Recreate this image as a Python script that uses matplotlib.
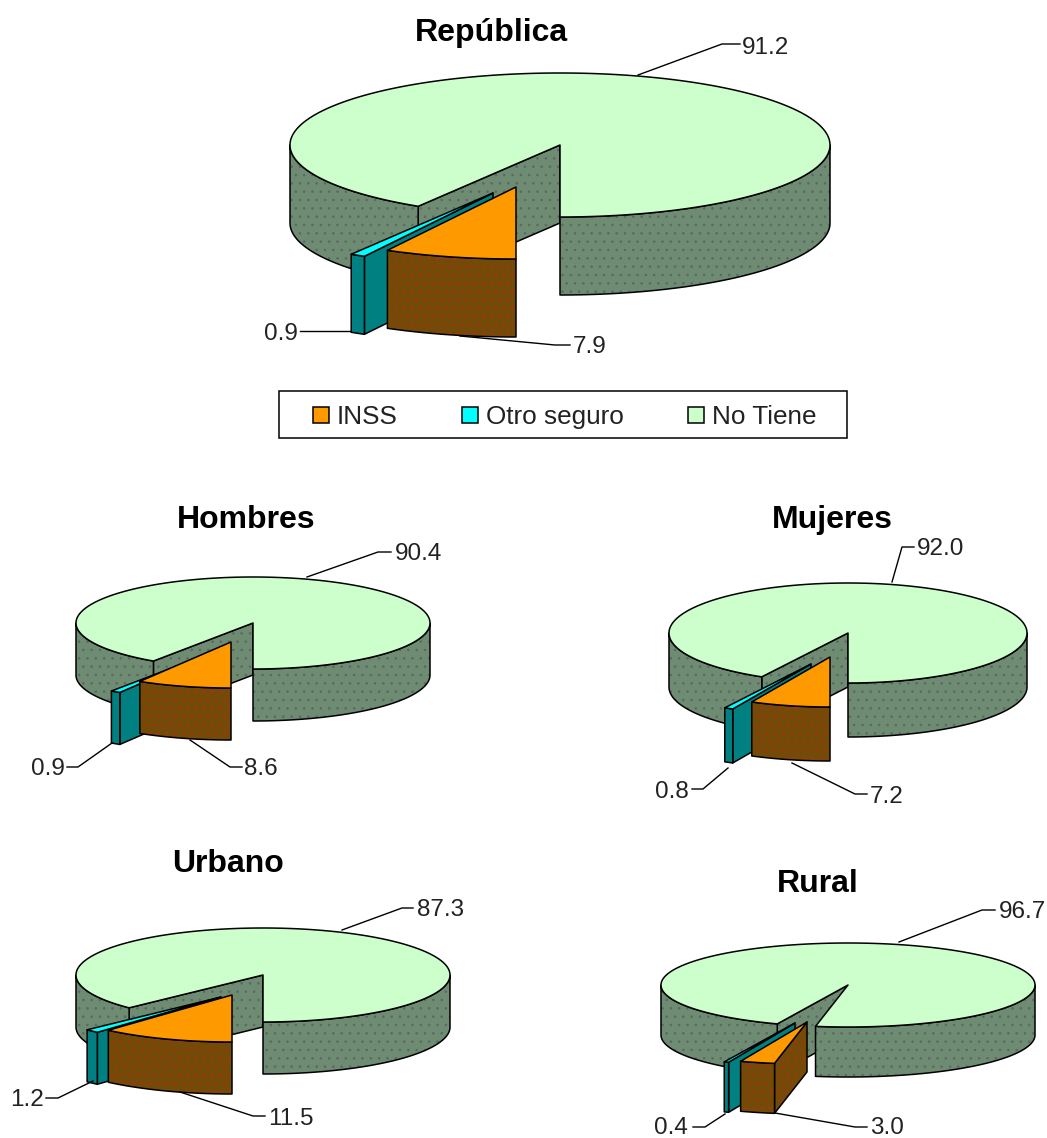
import numpy as np
import matplotlib
matplotlib.use('Agg')
import matplotlib.pyplot as plt
from matplotlib.patches import Polygon, Rectangle

plt.rcParams['font.family'] = ['Liberation Sans', 'DejaVu Sans']
plt.rcParams['hatch.linewidth'] = 0.6

# Data
names = ['República', 'Hombres', 'Mujeres', 'Urbano', 'Rural']
inss = [7.9, 8.6, 7.2, 11.5, 3.0]
otro = [0.9, 0.9, 0.8, 1.2, 0.4]
no_tiene = [91.2, 90.4, 92.0, 87.3, 96.7]
legend_labels = ['INSS', 'Otro seguro', 'No Tiene']

# Layout of each pie, in pixels
centers = [(560, 145), (253, 623), (848, 633), (263, 975), (848, 985)]
radii = [(270, 72), (177, 46), (179, 50), (187, 47), (187, 42)]
depths = [78, 52, 54, 52, 50]
inss_shift = [(-44, 42), (-22, 19), (-18, 24), (-31, 20), (-41, 37)]
otro_shift = [(-67, 48), (-42, 30), (-37, 31), (-42, 22), (-53, 38)]
first_angle = [0, 0, 0, 0, 10]
title_pos = [(491, 33), (246, 520), (832, 520), (228, 864), (818, 884)]

# Leader lines and where the value text sits
leaders = [
    ([(638, 75), (722, 44), (740, 44)], [(300, 331), (350, 331)], [(460, 336), (555, 345), (570, 345)]),
    ([(307, 577), (378, 552), (391, 552)], [(67, 767), (78, 767), (112, 743)], [(190, 740), (230, 767), (242, 767)]),
    ([(892, 582), (902, 547), (914, 547)], [(692, 789), (703, 789), (728, 768)], [(792, 763), (855, 794), (867, 794)]),
    ([(342, 930), (402, 908), (413, 908)], [(46, 1098), (58, 1098), (93, 1081)], [(180, 1092), (253, 1116), (265, 1116)]),
    ([(899, 942), (982, 910), (995, 910)], [(693, 1127), (705, 1127), (725, 1114)], [(775, 1113), (855, 1127), (867, 1127)]),
]
label_pos = [
    ((742, 48), (298, 334), (573, 347)),
    ((395, 554), (65, 769), (244, 769)),
    ((917, 549), (689, 792), (870, 797)),
    ((417, 910), (44, 1100), (268, 1119)),
    ((999, 912), (688, 1128), (870, 1128)),
]

GREEN_TOP, GREEN_WALL, GREEN_DOT = '#CCFFCC', '#6E8C72', '#60646A'
ORANGE_TOP, ORANGE_WALL, ORANGE_DOT = '#FF9900', '#744A08', '#B03010'
CYAN_TOP, CYAN_WALL = '#00FFFF', '#008080'
LW = 1.1


def rim(cx, cy, rx, ry, a0, a1):
    # angle measured clockwise from the front (bottom) of the pie
    t = np.radians(np.linspace(a0, a1, max(int(abs(a1 - a0) * 2), 2)))
    return np.column_stack([cx - rx * np.sin(t), cy + ry * np.cos(t)])


def face(ax, pts, color, dot=None):
    if dot:
        ax.add_patch(Polygon(pts, closed=True, facecolor=color, edgecolor=dot, hatch='..', lw=0))
    else:
        ax.add_patch(Polygon(pts, closed=True, facecolor=color, edgecolor='none', lw=0))
    ax.add_patch(Polygon(pts, closed=True, fill=False, edgecolor='black', lw=LW, joinstyle='round'))


def wall(ax, cx, cy, rx, ry, depth, a0, a1, color, dot):
    if a1 <= a0:
        return
    arc = rim(cx, cy, rx, ry, a0, a1)
    face(ax, np.vstack([arc, (arc + [0, depth])[::-1]]), color, dot)


def radial(ax, cx, cy, edge, depth, color, dot):
    pts = [(cx, cy), tuple(edge), (edge[0], edge[1] + depth), (cx, cy + depth)]
    face(ax, pts, color, dot)


def draw_slice(ax, cx, cy, rx, ry, depth, a0, a1, top, side, dot):
    # exploded slice: face on the start side, outer wall, top
    if a0 > 0:
        radial(ax, cx, cy, rim(cx, cy, rx, ry, a0, a0)[0], depth, side, dot)
    wall(ax, cx, cy, rx, ry, depth, a0, min(a1, 90), side, dot)
    face(ax, np.vstack([[(cx, cy)], rim(cx, cy, rx, ry, a0, a1)]), top)


def draw_pie(ax, i):
    cx, cy = centers[i]
    rx, ry = radii[i]
    d = depths[i]
    total = inss[i] + otro[i] + no_tiene[i]
    a0 = first_angle[i]
    a1 = a0 + inss[i] / total * 360
    a2 = a1 + otro[i] / total * 360
    a3 = a0 + 360

    # main slice
    radial(ax, cx, cy, rim(cx, cy, rx, ry, a2, a2)[0], d, GREEN_WALL, GREEN_DOT)
    wall(ax, cx, cy, rx, ry, d, a2, 90, GREEN_WALL, GREEN_DOT)
    wall(ax, cx, cy, rx, ry, d, 270, a3, GREEN_WALL, GREEN_DOT)
    face(ax, np.vstack([[(cx, cy)], rim(cx, cy, rx, ry, a2, a3)]), GREEN_TOP)

    ox, oy = otro_shift[i]
    draw_slice(ax, cx + ox, cy + oy, rx, ry, d, a1, a2, CYAN_TOP, CYAN_WALL, None)
    ix, iy = inss_shift[i]
    draw_slice(ax, cx + ix, cy + iy, rx, ry, d, a0, a1, ORANGE_TOP, ORANGE_WALL, ORANGE_DOT)

    ax.text(*title_pos[i], names[i], fontsize=23, fontweight='bold', ha='center', va='center')

    values = [no_tiene[i], otro[i], inss[i]]
    aligns = ['left', 'right', 'left']
    for line, pos, val, al in zip(leaders[i], label_pos[i], values, aligns):
        xs, ys = zip(*line)
        ax.plot(xs, ys, color='black', lw=1.0)
        ax.text(pos[0], pos[1], f'{val:.1f}', fontsize=17.5, ha=al, va='center', color='#222222')


def main():
    fig = plt.figure(figsize=(10.47, 11.38), dpi=100)
    ax = fig.add_axes([0, 0, 1, 1])
    ax.set_xlim(0, 1047)
    ax.set_ylim(1138, 0)
    ax.axis('off')

    for i in range(len(names)):
        draw_pie(ax, i)

    # Legend
    ax.add_patch(Rectangle((279, 391), 568, 47, fill=False, edgecolor='black', lw=1.1))
    colors = [ORANGE_TOP, CYAN_TOP, GREEN_TOP]
    for label, color, sx, tx in zip(legend_labels, colors, [313, 462, 688], [337, 486, 712]):
        ax.add_patch(Rectangle((sx, 407), 16, 16, facecolor=color, edgecolor='black', lw=1.1))
        ax.text(tx, 417, label, fontsize=18.8, ha='left', va='center', color='#222222')

    fig.savefig('out.png', dpi=100)


if __name__ == "__main__":
    main()
